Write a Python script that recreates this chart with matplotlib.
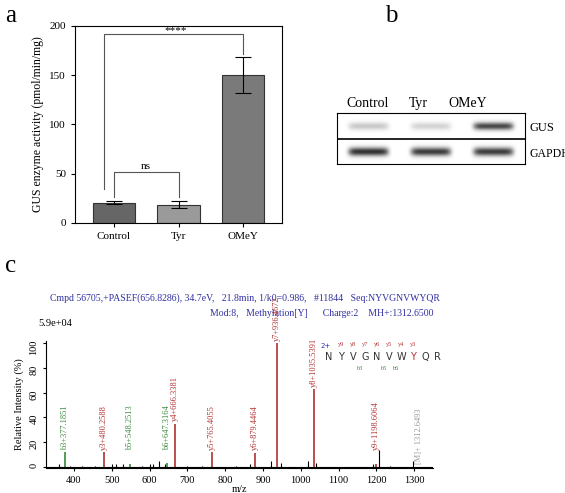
import numpy as np
import matplotlib
matplotlib.use("Agg")
import matplotlib.pyplot as plt

plt.rcParams['font.family'] = ['Liberation Serif', 'DejaVu Serif']

# panel a
groups = ["Control", "Tyr", "OMeY"]
activity = [20.5, 18.5, 150.5]
activity_err = [1.5, 3.5, 18.5]
bar_colors = ["#666666", "#9a9a9a", "#7a7a7a"]

# panel b
lanes = ["Control", "Tyr", "OMeY"]
gus_band = [0.25, 0.2, 0.85]
gapdh_band = [0.95, 0.9, 0.9]

# panel c
ion_mz = [377.1851, 480.2588, 548.2513, 647.3164, 666.3381, 765.4055, 879.4464,
          936.4672, 1035.5391, 1198.6064, 1312.6493]
ion_int = [12, 12, 2, 3, 35, 12, 11, 100, 63, 2, 2]
ion_names = ["b3", "y3", "b5", "b6", "y4", "y5", "y6", "y7", "y8", "y9", "[M]"]
noise_mz = [360, 390, 420, 455, 500, 510, 530, 580, 600, 610, 625, 640, 700, 740,
            830, 865, 922, 948, 1020, 1040, 1190, 1208, 1235, 1298]
noise_int = [2, 1, 1, 1, 2, 2, 2, 1, 2, 2, 5, 2, 1, 1, 1, 2, 5, 3, 5, 3, 2, 14, 1, 5]

fig = plt.figure(figsize=(5.65, 4.93), dpi=100)
W, H = 565, 493

def box(l, t, r, b):
    return [l / W, 1 - b / H, (r - l) / W, (b - t) / H]

ax = fig.add_axes(box(75, 26, 282, 223))
x = np.arange(len(groups))
ax.bar(x, activity, width=0.65, color=bar_colors, edgecolor="#333333", linewidth=0.8,
       yerr=activity_err, capsize=6, error_kw=dict(elinewidth=0.8, capthick=0.8))
ax.set_xticks(x)
ax.set_xticklabels(groups, fontsize=8)
ax.set_ylim(0, 200)
ax.set_yticks([0, 50, 100, 150, 200])
ax.tick_params(labelsize=8, length=3)
ax.set_xlim(-0.6, 2.6)
ax.set_ylabel("GUS enzyme activity (pmol/min/mg)", fontsize=8.5)
ax.plot([0, 0, 1, 1], [26, 52, 52, 26], color="#555555", lw=0.8)
ax.text(0.5, 55, "ns", ha="center", fontsize=8)
ax.plot([-0.15, -0.15, 2, 2], [35, 192, 192, 172], color="#555555", lw=0.8)
ax.text(0.95, 193, "****", ha="center", fontsize=8)
fig.text(5 / W, 1 - 22 / H, "a", fontsize=18)

# panel b blot
axb = fig.add_axes(box(337, 113, 525, 164))
xs = np.linspace(0, 3, 300)
img = np.zeros((60, 300))
rows = np.arange(60)
for i in range(3):
    prof = np.exp(-((xs - (i + 0.5)) / 0.32) ** 8)
    g = gus_band[i] * np.exp(-((rows - 15) / 4.5) ** 2)
    d = gapdh_band[i] * np.exp(-((rows - 45) / 5.0) ** 2)
    img += np.outer(g + d, prof)
axb.imshow(1 - 0.85 * np.clip(img, 0, 1), cmap="gray", vmin=0, vmax=1, aspect="auto",
           extent=[0, 3, 60, 0])
axb.axhline(30, color="black", lw=1.2)
axb.set_xticks([])
axb.set_yticks([])
for i, name in enumerate(lanes):
    fig.text((368 + i * 50) / W, 1 - 107 / H, name, fontsize=10, ha="center")
fig.text(529 / W, 1 - 131 / H, "GUS", fontsize=9)
fig.text(529 / W, 1 - 157 / H, "GAPDH", fontsize=8.5)
fig.text(385 / W, 1 - 22 / H, "b", fontsize=18)

# panel c spectrum
axc = fig.add_axes(box(46, 341, 433, 468))
axc.vlines(noise_mz, 0, noise_int, color="black", lw=0.8)
for mz, it, nm in zip(ion_mz, ion_int, ion_names):
    if nm.startswith("y"):
        col = "#b03030"
    elif nm.startswith("b"):
        col = "#3a8a3a"
    else:
        col = "#999999"
    if nm != "[M]":
        axc.vlines(mz, 0, it, color=col, lw=1.2)
    lab = "[M]+ 1312.6493" if nm == "[M]" else "%s+%.4f" % (nm, mz)
    ypos = max(it, 12) + 2 if nm != "[M]" else 2
    axc.text(mz, ypos, lab, rotation=90, ha="center", va="bottom", fontsize=6,
             color=col)
axc.axhline(0, color="black", lw=0.8)
axc.set_xlim(326, 1350)
axc.set_ylim(-1, 102)
axc.set_xticks(range(400, 1400, 100))
axc.set_yticks([0, 20, 40, 60, 80, 100])
axc.tick_params(labelsize=7.5, length=2)
axc.yaxis.set_tick_params(labelrotation=90)
for s in ["top", "right"]:
    axc.spines[s].set_visible(False)
axc.set_xlabel("m/z", fontsize=7.5, labelpad=0)
axc.set_ylabel("Relative Intensity (%)", fontsize=7.5)
fig.text(38 / W, 1 - 326 / H, "5.9e+04", fontsize=7.5)
fig.text(5 / W, 1 - 272 / H, "c", fontsize=18)
fig.text(50 / W, 1 - 301 / H,
         "Cmpd 56705,+PASEF(656.8286), 34.7eV,   21.8min, 1/k0=0.986,   #11844   Seq:NYVGNVWYQR",
         fontsize=7, color="#3030a0")
fig.text(210 / W, 1 - 316 / H,
         "Mod:8,   Methylation[Y]      Charge:2    MH+:1312.6500", fontsize=7, color="#3030a0")

# sequence annotation
seq = "NYVGNVWYQR"
for i, aa in enumerate(seq):
    fig.text((329 + i * 12) / W, 1 - 360 / H, aa, fontsize=7, family="DejaVu Sans",
             color="#b03030" if i == 7 else "#333333", ha="center")
fig.text(321 / W, 1 - 348 / H, "2+", fontsize=5, color="#3030c0", family="DejaVu Sans")
for i, yn in enumerate(["y9", "y8", "y7", "y6", "y5", "y4", "y3"]):
    fig.text((341 + i * 12) / W, 1 - 346 / H, yn, fontsize=4.5, color="#b03030",
             ha="center")
for pos, bn in [(3, "b3"), (5, "b5"), (6, "b6")]:
    fig.text((329 + pos * 12 - 6) / W, 1 - 370 / H, bn, fontsize=4.5, color="#3a8a3a",
             ha="center")

fig.savefig("out.png", dpi=100)
